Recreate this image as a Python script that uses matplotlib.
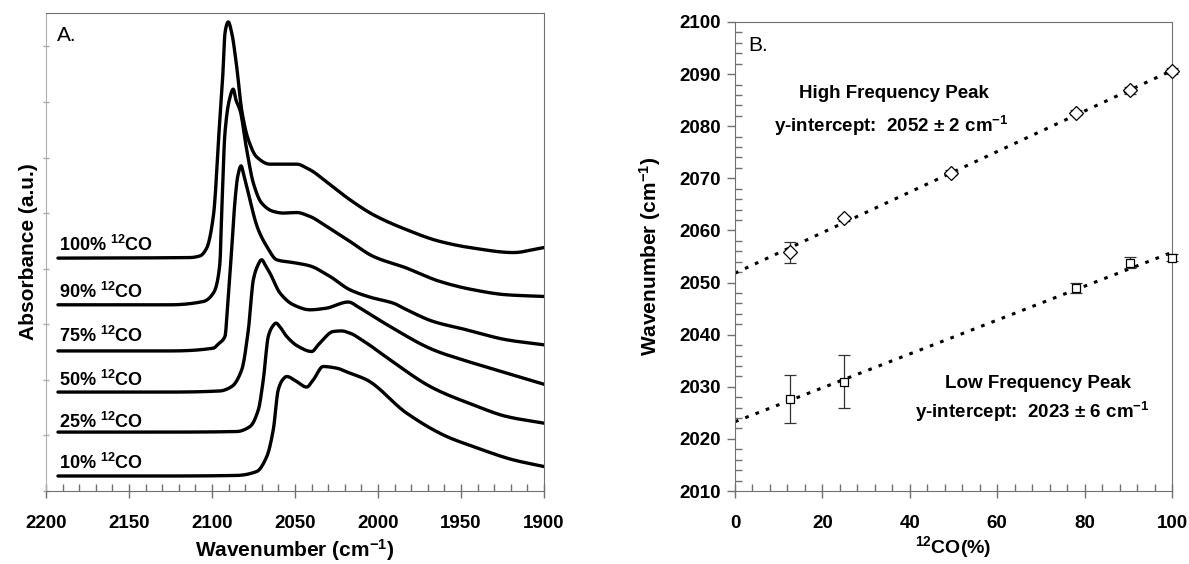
import matplotlib
matplotlib.use("Agg")
import matplotlib.pyplot as plt
import numpy as np
from matplotlib.ticker import MultipleLocator

plt.rcParams['font.family'] = ['Liberation Sans', 'DejaVu Sans']
plt.rcParams['mathtext.fontset'] = 'custom'
plt.rcParams['mathtext.rm'] = 'Liberation Sans'
plt.rcParams['mathtext.bf'] = 'Liberation Sans:bold'
plt.rcParams['mathtext.default'] = 'bf'

# ---------------- Panel A: stacked IR spectra (wavenumber, absorbance a.u. incl. offset)
wn_100 = [2192.8, 2113.3, 2107.2, 2103.2, 2099.2, 2095.2, 2093.2, 2092.2, 2090.2, 2088.1, 2085.1, 2082.1,
          2078.1, 2073.1, 2065.1, 2059.0, 2049.0, 2041.0, 2030.9, 2016.9, 2002.8, 1982.7, 1962.7, 1942.6,
          1918.5, 1900.0]
ab_100 = [4.19, 4.20, 4.23, 4.37, 4.94, 6.73, 7.63, 8.24, 8.44, 8.24, 7.63, 6.85,
          6.32, 6.01, 5.88, 5.88, 5.88, 5.78, 5.56, 5.24, 4.97, 4.70, 4.49, 4.37,
          4.29, 4.38]

wn_90 = [2192.8, 2125.3, 2105.2, 2099.2, 2095.2, 2094.5, 2093.8, 2092.2, 2089.6, 2087.2, 2085.5, 2083.1,
         2079.1, 2075.1, 2070.1, 2063.1, 2057.0, 2049.0, 2041.0, 2030.9, 2016.9, 2002.8, 1982.7, 1962.7,
         1942.6, 1922.5, 1900.0]
ab_90 = [3.35, 3.35, 3.41, 3.56, 4.10, 4.70, 5.30, 6.44, 7.03, 7.23, 7.03, 6.85,
         6.14, 5.54, 5.18, 5.03, 5.00, 5.01, 4.94, 4.76, 4.49, 4.22, 4.01, 3.77,
         3.62, 3.53, 3.50]

wn_75 = [2192.8, 2125.3, 2099.2, 2096.0, 2092.2, 2090.2, 2088.1, 2086.1, 2084.5, 2082.5, 2080.7, 2078.1,
         2074.1, 2072.1, 2067.0, 2061.0, 2049.0, 2041.0, 2028.9, 2016.9, 2002.8, 1990.8, 1982.7, 1966.7,
         1946.6, 1922.5, 1900.0]
ab_75 = [2.52, 2.52, 2.57, 2.65, 2.78, 3.50, 4.37, 5.24, 5.66, 5.85, 5.66, 5.36,
         4.88, 4.70, 4.40, 4.16, 4.10, 4.05, 3.86, 3.62, 3.47, 3.38, 3.26, 3.05,
         2.90, 2.72, 2.63]

wn_50 = [2192.8, 2125.3, 2095.2, 2088.1, 2082.1, 2078.1, 2075.1, 2072.7, 2070.1, 2067.5, 2065.1, 2059.0,
         2051.0, 2041.0, 2030.9, 2018.0, 2010.8, 1992.8, 1966.7, 1942.6, 1922.5, 1900.0]
ab_50 = [1.78, 1.78, 1.80, 1.88, 2.18, 2.90, 3.80, 4.04, 4.16, 4.04, 3.92, 3.56,
         3.35, 3.26, 3.29, 3.40, 3.29, 2.96, 2.54, 2.30, 2.12, 1.92]

wn_25 = [2192.8, 2125.3, 2085.1, 2077.1, 2072.1, 2069.1, 2066.1, 2063.8, 2061.4, 2059.0, 2055.0, 2048.0,
         2040.0, 2035.1, 2026.9, 2022.0, 2016.9, 2006.8, 1992.8, 1966.7, 1942.6, 1922.5, 1900.0]
ab_25 = [1.06, 1.06, 1.07, 1.16, 1.46, 2.00, 2.78, 2.95, 3.02, 2.95, 2.78, 2.60,
         2.51, 2.66, 2.87, 2.88, 2.84, 2.66, 2.36, 1.85, 1.55, 1.34, 1.22]

wn_10 = [2192.8, 2125.3, 2085.1, 2073.1, 2067.0, 2063.1, 2060.1, 2057.5, 2055.0, 2049.0, 2043.0, 2039.0,
         2033.0, 2024.9, 2016.9, 2006.8, 1982.7, 1958.6, 1942.6, 1918.5, 1900.0]
ab_10 = [0.27, 0.27, 0.28, 0.35, 0.62, 1.10, 1.82, 2.00, 2.06, 1.97, 1.87, 2.00,
         2.24, 2.21, 2.12, 2.00, 1.40, 0.98, 0.80, 0.56, 0.44]

spectra_labels = ['100%', '90%', '75%', '50%', '25%', '10%']
label_levels = [4.43, 3.58, 2.79, 2.00, 1.24, 0.50]

# ---------------- Panel B: peak positions vs 12CO fraction
hf_x = [12.5, 25.0, 49.5, 78.0, 90.5, 100.0]
hf_y = [2055.8, 2062.3, 2071.1, 2082.6, 2086.9, 2090.6]
hf_err = [2.0, 0.4, 0.5, 0.5, 0.7, 0.5]

lf_x = [12.5, 25.0, 78.0, 90.5, 100.0]
lf_y = [2027.6, 2031.0, 2048.9, 2053.8, 2054.8]
lf_err = [4.6, 5.1, 1.0, 1.1, 0.6]

hf_fit = (0.389, 2051.8)   # slope, intercept
lf_fit = (0.325, 2023.3)


def smooth_path(x, y, n=800):
    """Monotone cubic (PCHIP) drawing path through the read points."""
    x = np.asarray(x, float)[::-1]
    y = np.asarray(y, float)[::-1]
    h = np.diff(x)
    d = np.diff(y) / h
    m = np.zeros_like(y)
    m[0], m[-1] = d[0], d[-1]
    for k in range(1, len(x) - 1):
        if d[k - 1] * d[k] > 0:
            w1 = 2 * h[k] + h[k - 1]
            w2 = h[k] + 2 * h[k - 1]
            m[k] = (w1 + w2) / (w1 / d[k - 1] + w2 / d[k])
    xn = np.linspace(x[0], x[-1], n)
    i = np.clip(np.searchsorted(x, xn) - 1, 0, len(x) - 2)
    t = (xn - x[i]) / h[i]
    h00 = 2 * t**3 - 3 * t**2 + 1
    h10 = t**3 - 2 * t**2 + t
    h01 = -2 * t**3 + 3 * t**2
    h11 = t**3 - t**2
    yn = h00 * y[i] + h10 * h[i] * m[i] + h01 * y[i + 1] + h11 * h[i] * m[i + 1]
    return xn, yn


fig = plt.figure(figsize=(11.89, 5.64), dpi=100)
spine_col = '#707070'

# ---------- Panel A
axA = fig.add_axes([46/1189, 73/564, 498/1189, 478/564])
curves = [(wn_100, ab_100), (wn_90, ab_90), (wn_75, ab_75), (wn_50, ab_50), (wn_25, ab_25), (wn_10, ab_10)]
for wn, ab in curves:
    xs, ys = smooth_path(wn, ab)
    axA.plot(xs, ys, color='black', lw=2.4, solid_joinstyle='round', solid_capstyle='round')
for lab, lv in zip(spectra_labels, label_levels):
    axA.text(2192, lv, lab + r' $^{12}$CO', fontsize=13, fontweight='bold', va='center', ha='left')
axA.text(2193.5, 8.2, 'A.', fontsize=15, va='center', ha='left')
axA.set_xlim(2200, 1900)
axA.set_ylim(0, 8.6)
axA.xaxis.set_major_locator(MultipleLocator(50))
axA.xaxis.set_minor_locator(MultipleLocator(10))
axA.yaxis.set_major_locator(MultipleLocator(1))
axA.set_yticklabels([])
axA.tick_params(axis='x', which='major', direction='inout', length=10, width=1, color=spine_col,
                labelsize=13.5, pad=12)
axA.tick_params(axis='x', which='minor', direction='in', length=5, width=1, color=spine_col)
axA.tick_params(axis='y', which='major', direction='inout', length=4, width=1, color='#aaaaaa', pad=0)
for lab in axA.get_xticklabels():
    lab.set_fontweight('bold')
for side in ['top', 'right', 'bottom']:
    axA.spines[side].set_color(spine_col)
axA.spines['left'].set_color('#b0b0b0')
axA.set_xlabel(r'Wavenumber (cm$^{-1}$)', fontsize=15, fontweight='bold', labelpad=4)
axA.set_ylabel('Absorbance (a.u.)', fontsize=15, fontweight='bold', labelpad=4)

# ---------- Panel B
axB = fig.add_axes([735/1189, 73/564, 437/1189, 469/564])
xx = [0, 100]
axB.plot(xx, [hf_fit[1] + hf_fit[0]*v for v in xx], color='black', lw=2.2, linestyle=(0, (1.2, 2.4)))
axB.plot(xx, [lf_fit[1] + lf_fit[0]*v for v in xx], color='black', lw=2.2, linestyle=(0, (1.2, 2.4)))
e1 = axB.errorbar(hf_x, hf_y, yerr=hf_err, fmt='D', ms=7.5, mfc='white', mec='black', mew=0.9,
                  ecolor='#333333', elinewidth=0.9, capsize=4, capthick=0.9, zorder=3)
e2 = axB.errorbar(lf_x, lf_y, yerr=lf_err, fmt='s', ms=5.5, mfc='white', mec='black', mew=0.9,
                  ecolor='#333333', elinewidth=0.9, capsize=4, capthick=0.9, zorder=3)
for e in (e1, e2):
    e[0].set_clip_on(False)
    for c in e[1]:
        c.set_clip_on(False)
    for c in e[2]:
        c.set_clip_on(False)
axB.set_xlim(0, 100)
axB.set_ylim(2010, 2100)
axB.xaxis.set_major_locator(MultipleLocator(20))
axB.xaxis.set_minor_locator(MultipleLocator(4))
axB.yaxis.set_major_locator(MultipleLocator(10))
axB.yaxis.set_minor_locator(MultipleLocator(2))
axB.tick_params(axis='x', which='major', direction='inout', length=10, width=1, color=spine_col,
                labelsize=13.5, pad=12)
axB.tick_params(axis='x', which='minor', direction='in', length=5, width=1, color=spine_col)
axB.tick_params(axis='y', which='major', direction='out', length=6, width=1, color=spine_col,
                labelsize=13.5, pad=4)
axB.tick_params(axis='y', which='minor', direction='in', length=5, width=1, color=spine_col)
for lab in axB.get_xticklabels() + axB.get_yticklabels():
    lab.set_fontweight('bold')
for side in axB.spines:
    axB.spines[side].set_color(spine_col)
axB.set_xlabel(r'$^{12}$CO(%)', fontsize=14, fontweight='bold', labelpad=2)
axB.set_ylabel(r'Wavenumber (cm$^{-1}$)', fontsize=15, fontweight='bold', labelpad=12)

axB.text(3.0, 2095.4, 'B.', fontsize=15, va='center', ha='left')
axB.text(36.3, 2086.2, 'High Frequency Peak', fontsize=13.5, fontweight='bold', ha='center', va='center')
axB.text(35.8, 2080.0, r'y-intercept:  2052 ± 2 cm$^{-1}$', fontsize=13.5, fontweight='bold',
         ha='center', va='center')
axB.text(69.3, 2030.6, 'Low Frequency Peak', fontsize=13.5, fontweight='bold', ha='center', va='center')
axB.text(68.1, 2025.1, r'y-intercept:  2023 ± 6 cm$^{-1}$', fontsize=13.5, fontweight='bold',
         ha='center', va='center')

fig.savefig('out.png', dpi=100)
